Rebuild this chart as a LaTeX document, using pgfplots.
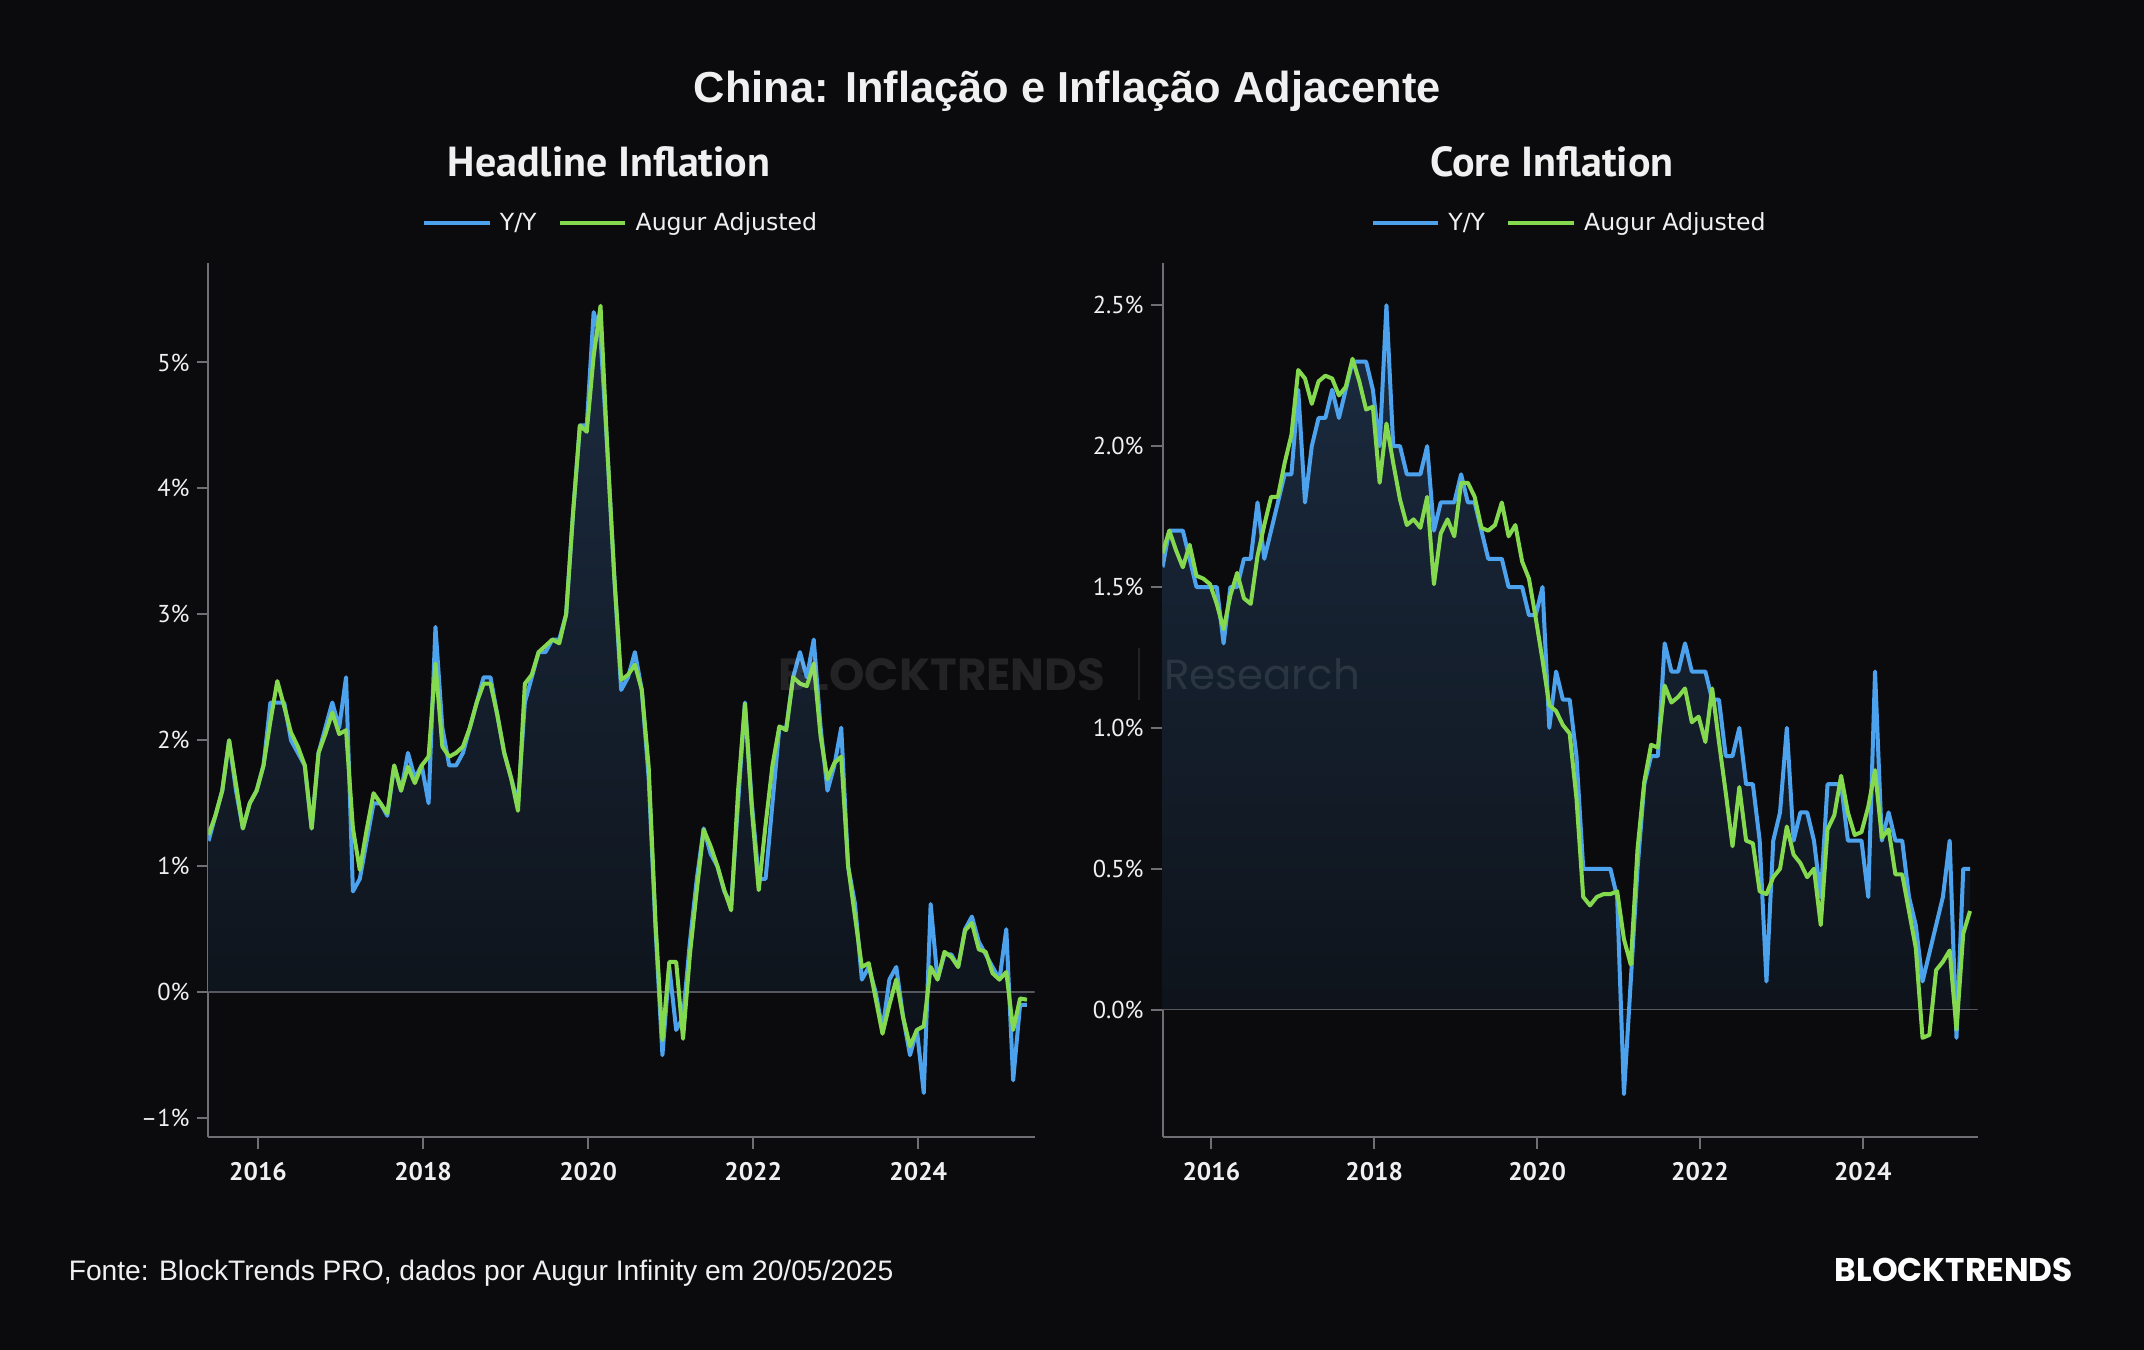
\documentclass[border=0pt]{standalone}
\usepackage{fontspec}
\setmainfont{Liberation Sans}
\newfontfamily\ptsans{PT Sans}
\newfontfamily\dejavu{DejaVu Sans}
\newfontfamily\poppins{Poppins}
\usepackage{pgfplots}
\usepackage{pgfplotstable}
\pgfplotsset{compat=1.18}

\definecolor{bg}{HTML}{0B0B0D}
\definecolor{txt}{HTML}{F0F0F0}
\definecolor{axisgray}{HTML}{6E6E73}
\definecolor{zerogray}{HTML}{55585E}
\definecolor{yy}{HTML}{4DA2EE}
\definecolor{aug}{HTML}{85D94F}
\definecolor{areatop}{HTML}{1B2B40}
\definecolor{areabot}{HTML}{0D1117}

% monthly data, May 2015 (i = 0) to Apr 2025 (i = 119)
% hb/hg: headline CPI Y/Y and Augur adjusted; cb/cg: core CPI Y/Y and Augur adjusted
\pgfplotstableread{
i hb hg cb cg
0 1.2 1.25 1.57 1.62
1 1.4 1.4 1.7 1.70
2 1.6 1.6 1.7 1.63
3 2.0 2.0 1.7 1.57
4 1.6 1.65 1.6 1.65
5 1.3 1.3 1.5 1.54
6 1.5 1.5 1.5 1.53
7 1.6 1.6 1.5 1.51
8 1.8 1.8 1.5 1.44
9 2.3 2.15 1.3 1.35
10 2.3 2.47 1.5 1.47
11 2.3 2.27 1.5 1.55
12 2.0 2.06 1.6 1.46
13 1.9 1.95 1.6 1.44
14 1.8 1.8 1.8 1.61
15 1.3 1.3 1.6 1.72
16 1.9 1.9 1.7 1.82
17 2.1 2.05 1.8 1.82
18 2.3 2.22 1.9 1.94
19 2.1 2.05 1.9 2.04
20 2.5 2.08 2.2 2.27
21 0.8 1.3 1.8 2.24
22 0.9 0.97 2.0 2.15
23 1.2 1.29 2.1 2.23
24 1.5 1.58 2.1 2.25
25 1.5 1.5 2.2 2.24
26 1.4 1.42 2.1 2.18
27 1.8 1.8 2.2 2.21
28 1.6 1.6 2.3 2.31
29 1.9 1.79 2.3 2.23
30 1.7 1.66 2.3 2.13
31 1.8 1.8 2.2 2.14
32 1.5 1.87 2.0 1.87
33 2.9 2.61 2.5 2.08
34 2.1 1.95 2.0 1.94
35 1.8 1.87 2.0 1.81
36 1.8 1.9 1.9 1.72
37 1.9 1.95 1.9 1.74
38 2.1 2.1 1.9 1.71
39 2.3 2.3 2.0 1.82
40 2.5 2.45 1.7 1.51
41 2.5 2.45 1.8 1.69
42 2.2 2.2 1.8 1.74
43 1.9 1.9 1.8 1.68
44 1.7 1.7 1.9 1.87
45 1.5 1.44 1.8 1.87
46 2.3 2.45 1.8 1.82
47 2.5 2.52 1.7 1.71
48 2.7 2.7 1.6 1.70
49 2.7 2.75 1.6 1.72
50 2.8 2.8 1.6 1.80
51 2.8 2.77 1.5 1.68
52 3.0 3.0 1.5 1.72
53 3.8 3.8 1.5 1.59
54 4.5 4.5 1.4 1.53
55 4.5 4.45 1.4 1.39
56 5.4 5.05 1.5 1.24
57 5.2 5.45 1.0 1.08
58 4.3 4.3 1.2 1.06
59 3.3 3.3 1.1 1.01
60 2.4 2.48 1.1 0.98
61 2.5 2.52 0.9 0.75
62 2.7 2.6 0.5 0.40
63 2.4 2.4 0.5 0.37
64 1.7 1.79 0.5 0.40
65 0.5 0.55 0.5 0.41
66 -0.5 -0.38 0.5 0.41
67 0.2 0.24 0.4 0.42
68 -0.3 0.24 -0.3 0.25
69 -0.2 -0.37 0.1 0.16
70 0.4 0.3 0.5 0.57
71 0.9 0.81 0.8 0.81
72 1.3 1.29 0.9 0.94
73 1.1 1.16 0.9 0.93
74 1.0 1.0 1.3 1.15
75 0.8 0.81 1.2 1.09
76 0.7 0.65 1.2 1.11
77 1.5 1.6 1.3 1.14
78 2.3 2.29 1.2 1.02
79 1.5 1.45 1.2 1.04
80 0.9 0.81 1.2 0.95
81 0.9 1.33 1.1 1.14
82 1.5 1.8 1.1 0.95
83 2.1 2.11 0.9 0.77
84 2.1 2.08 0.9 0.58
85 2.5 2.5 1.0 0.79
86 2.7 2.45 0.8 0.60
87 2.5 2.43 0.8 0.59
88 2.8 2.61 0.6 0.42
89 2.1 2.03 0.1 0.41
90 1.6 1.69 0.6 0.47
91 1.8 1.82 0.7 0.50
92 2.1 1.87 1.0 0.65
93 1.0 1.0 0.6 0.55
94 0.7 0.6 0.7 0.52
95 0.1 0.2 0.7 0.47
96 0.2 0.23 0.6 0.50
97 0.0 -0.05 0.4 0.30
98 -0.3 -0.33 0.8 0.64
99 0.1 -0.1 0.8 0.69
100 0.2 0.1 0.8 0.83
101 -0.2 -0.2 0.6 0.70
102 -0.5 -0.43 0.6 0.62
103 -0.3 -0.3 0.6 0.63
104 -0.8 -0.27 0.4 0.72
105 0.7 0.2 1.2 0.85
106 0.1 0.1 0.6 0.61
107 0.3 0.32 0.7 0.64
108 0.3 0.28 0.6 0.48
109 0.2 0.2 0.6 0.48
110 0.5 0.49 0.4 0.35
111 0.6 0.55 0.3 0.22
112 0.4 0.34 0.1 -0.10
113 0.3 0.32 0.2 -0.09
114 0.2 0.15 0.3 0.14
115 0.1 0.1 0.4 0.17
116 0.5 0.16 0.6 0.21
117 -0.7 -0.3 -0.1 -0.07
118 -0.1 -0.05 0.5 0.27
119 -0.1 -0.06 0.5 0.35
}\datatab

\pgfplotsset{
  panel/.style={
    scale only axis,
    axis x line=bottom, axis y line=left,
    axis line style={draw=axisgray, line width=1pt, -},
    tick align=outside,
    major tick length=6pt,
    every tick/.style={draw=axisgray, line width=1pt},
    xmin=0, xmax=120.1,
    xtick={7.2,31.2,55.2,79.2,103.2},
    xticklabels={2016,2018,2020,2022,2024},
    x tick label style={font=\ptsans\bfseries\fontsize{12.7}{14}\selectfont, text=txt, yshift=-3pt},
    y tick label style={font=\ptsans\fontsize{12.2}{14}\selectfont, text=txt},
    legend columns=2,
    legend style={draw=none, fill=none, text=txt,
      font=\dejavu\fontsize{11.8}{13}\selectfont,
      at={(0.5,1)}, anchor=center, yshift=19.9pt,
      /tikz/every odd column/.append style={column sep=2pt},
      /tikz/every even column/.append style={column sep=8.5pt}},
    legend image code/.code={\draw[#1, line width=2.2pt] (0pt,0pt) -- (32.8pt,0pt);},
  },
  yyline/.style={color=yy, line width=2pt, line join=round},
  augline/.style={color=aug, line width=2pt, line join=round},
  area/.style={forget plot, draw=none, top color=areatop, bottom color=areabot},
}

\begin{document}
\begin{tikzpicture}
\fill[bg] (0pt,0pt) rectangle (1072pt,675pt);

% headline inflation
\begin{axis}[panel, at={(104.25pt,106.5pt)}, anchor=south west,
  width=413pt, height=437pt,
  ymin=-1.15, ymax=5.79,
  ytick={-1,0,1,2,3,4,5},
  yticklabels={–1\%,0\%,1\%,2\%,3\%,4\%,5\%}]
\addplot[area] table[x=i, y=hb] {\datatab} \closedcycle;
\draw[zerogray, line width=0.8pt] (axis cs:0,0) -- (axis cs:120.1,0);
\addplot[yyline] table[x=i, y=hb] {\datatab};
\addlegendentry{Y/Y}
\addplot[augline] table[x=i, y=hg] {\datatab};
\addlegendentry{Augur Adjusted}
\end{axis}

% core inflation
\begin{axis}[panel, at={(581.25pt,106.5pt)}, anchor=south west,
  width=407.5pt, height=437pt,
  ymin=-0.452, ymax=2.65,
  ytick={0,0.5,1,1.5,2,2.5},
  yticklabels={0.0\%,0.5\%,1.0\%,1.5\%,2.0\%,2.5\%}]
\addplot[area] table[x=i, y=cb] {\datatab} \closedcycle;
\draw[zerogray, line width=0.8pt] (axis cs:0,0) -- (axis cs:120.1,0);
\addplot[yyline] table[x=i, y=cb] {\datatab};
\addlegendentry{Y/Y}
\addplot[augline] table[x=i, y=cg] {\datatab};
\addlegendentry{Augur Adjusted}
\end{axis}

% titles
\node[anchor=base, inner sep=0, text=txt, font=\bfseries\fontsize{21.7}{26}\selectfont]
  at (533.7pt,623.7pt) {China: Inflação e Inflação Adjacente};
\node[anchor=base, inner sep=0, text=txt, font=\ptsans\bfseries\fontsize{21}{24}\selectfont]
  at (304.5pt,586.6pt) {Headline Inflation};
\node[anchor=base, inner sep=0, text=txt, font=\ptsans\bfseries\fontsize{21}{24}\selectfont]
  at (776pt,586.6pt) {Core Inflation};

% watermark
\node[anchor=center, inner sep=0, text=white, opacity=0.1, font=\poppins\bfseries\fontsize{22.5}{26}\selectfont]
  at (470.8pt,337.9pt) {BLOCKTRENDS};
\draw[white, opacity=0.1, line width=1pt] (569.7pt,325pt) -- (569.7pt,351pt);
\node[anchor=center, inner sep=0, text=white, opacity=0.1, font=\poppins\fontsize{21}{24}\selectfont]
  at (631pt,337.9pt) {Research};

% footer
\node[anchor=base west, inner sep=0, text=txt, font=\fontsize{14.1}{17}\selectfont]
  at (34.2pt,34.5pt) {Fonte: BlockTrends PRO, dados por Augur Infinity em 20/05/2025};
\node[anchor=base east, inner sep=0, text=white, font=\poppins\bfseries\fontsize{16.4}{19}\selectfont]
  at (1036.7pt,34.2pt) {BLOCKTRENDS};
\end{tikzpicture}
\end{document}
